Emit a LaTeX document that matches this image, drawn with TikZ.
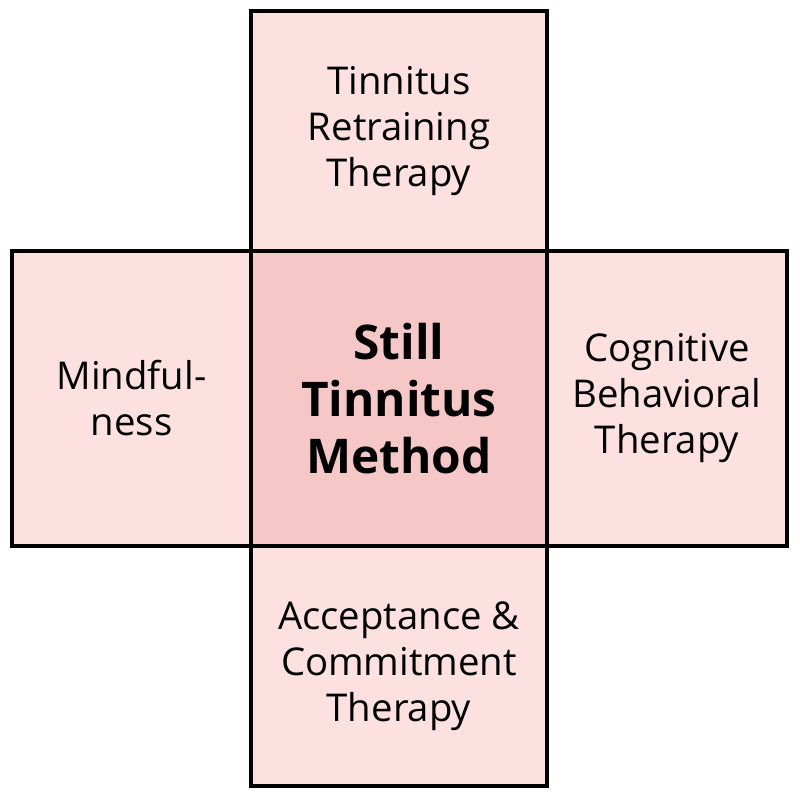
\documentclass[tikz,border=0pt]{standalone}
\usepackage{fontspec}
\setmainfont{Open Sans}
\usetikzlibrary{positioning}

\definecolor{armpink}{RGB}{253,225,225}
\definecolor{corepink}{RGB}{246,199,199}

\begin{document}
\begin{tikzpicture}[
  box/.style={rectangle, draw=black, line width=0.9pt, outer sep=0pt,
              inner sep=0pt, align=center, text=black},
  arm/.style={box, fill=armpink, font=\fontsize{10.9}{13.1}\selectfont},
  core/.style={box, fill=corepink, minimum width=2.96cm, minimum height=2.95cm,
               font=\fontsize{13.6}{16.2}\selectfont\bfseries}
]
  \useasboundingbox (0,0) rectangle (8,8);

  % Centre square of the cross
  \node[core] (method) at (3.99, 4.015) {Still\\Tinnitus\\Method};

  % The four therapies around it
  \node[arm, minimum width=2.96cm, minimum height=2.40cm, above=0pt of method]
    (trt) {Tinnitus\\Retraining\\Therapy};
  \node[arm, minimum width=2.96cm, minimum height=2.40cm, below=0pt of method]
    (act) {Acceptance \&\\Commitment\\Therapy};
  \node[arm, minimum width=2.39cm, minimum height=2.95cm, left=0pt of method]
    (mind) {Mindful-\\ness};
  \node[arm, minimum width=2.40cm, minimum height=2.95cm, right=0pt of method]
    (cbt) {Cognitive\\Behavioral\\Therapy};

  % Redraw the centre border on top
  \draw[line width=0.9pt] (method.south west) rectangle (method.north east);
\end{tikzpicture}
\end{document}
